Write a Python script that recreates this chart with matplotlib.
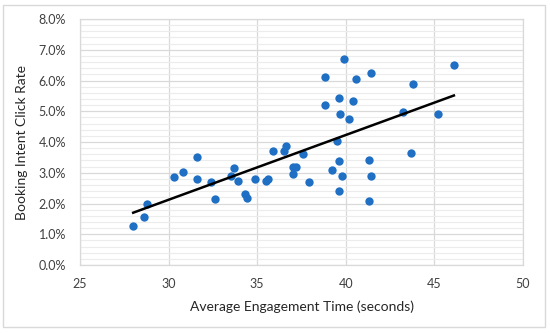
import numpy as np
import matplotlib.pyplot as plt
from matplotlib.ticker import MultipleLocator, PercentFormatter
from matplotlib.patches import FancyBboxPatch

# Data
engagement_time = [28.0, 28.6, 28.8, 30.3, 30.8, 31.6, 31.6, 32.4, 32.6, 33.5,
                   33.7, 33.9, 34.3, 34.4, 34.9, 35.5, 35.6, 35.9, 36.5, 36.6,
                   37.0, 37.0, 37.2, 37.6, 37.9, 39.9, 38.8, 40.6, 41.4, 43.8,
                   46.1, 39.6, 40.4, 38.8, 39.7, 40.2, 43.2, 45.2, 39.5, 43.7,
                   39.6, 41.3, 39.2, 39.8, 41.4, 39.6, 41.3]
click_rate = [1.27, 1.56, 2.00, 2.86, 3.02, 3.51, 2.80, 2.69, 2.15, 2.90,
              3.15, 2.73, 2.31, 2.19, 2.79, 2.74, 2.79, 3.71, 3.71, 3.87,
              2.96, 3.18, 3.18, 3.62, 2.70, 6.71, 6.11, 6.05, 6.25, 5.88,
              6.49, 5.44, 5.33, 5.19, 4.91, 4.75, 4.99, 4.90, 4.02, 3.63,
              3.37, 3.43, 3.09, 2.89, 2.90, 2.40, 2.07]

x = np.array(engagement_time)
y = np.array(click_rate) / 100

plt.rcParams['font.family'] = ['Lato', 'DejaVu Sans']

fig = plt.figure(figsize=(5.5, 3.33), dpi=100)
ax = fig.add_axes([0.1455, 0.2042, 0.8054, 0.7387])

# outer chart border
fig.patches.append(FancyBboxPatch((0.006, 0.018), 0.984, 0.966,
                                  boxstyle='square,pad=0', transform=fig.transFigure,
                                  facecolor='none', edgecolor='#d9d9d9', linewidth=1))

ax.scatter(x, y, s=36, color='#1f6fc4', zorder=3, linewidths=0)

# linear trendline
slope, intercept = np.polyfit(x, y, 1)
xs = np.array([x.min(), x.max()])
ax.plot(xs, slope * xs + intercept, color='black', linewidth=1.8, zorder=4)

ax.set_xlim(25, 50)
ax.set_ylim(0, 0.08)
ax.xaxis.set_major_locator(MultipleLocator(5))
ax.yaxis.set_major_locator(MultipleLocator(0.01))
ax.yaxis.set_minor_locator(MultipleLocator(0.002))
ax.yaxis.set_major_formatter(PercentFormatter(1.0, decimals=1))

ax.grid(which='major', color='#d9d9d9', linewidth=0.9)
ax.grid(which='minor', axis='y', color='#ececec', linewidth=0.8)
ax.set_axisbelow(True)

for side in ax.spines.values():
    side.set_color('#d9d9d9')
    side.set_linewidth(0.9)

ax.tick_params(which='both', length=0, labelsize=9, colors='#404040')
ax.tick_params(axis='y', pad=10)
ax.tick_params(axis='x', pad=9)

ax.set_xlabel('Average Engagement Time (seconds)', fontsize=10, color='#262626', labelpad=8)
ax.set_ylabel('Booking Intent Click Rate', fontsize=10, color='#262626', labelpad=8)

plt.savefig('out.png', dpi=100)
